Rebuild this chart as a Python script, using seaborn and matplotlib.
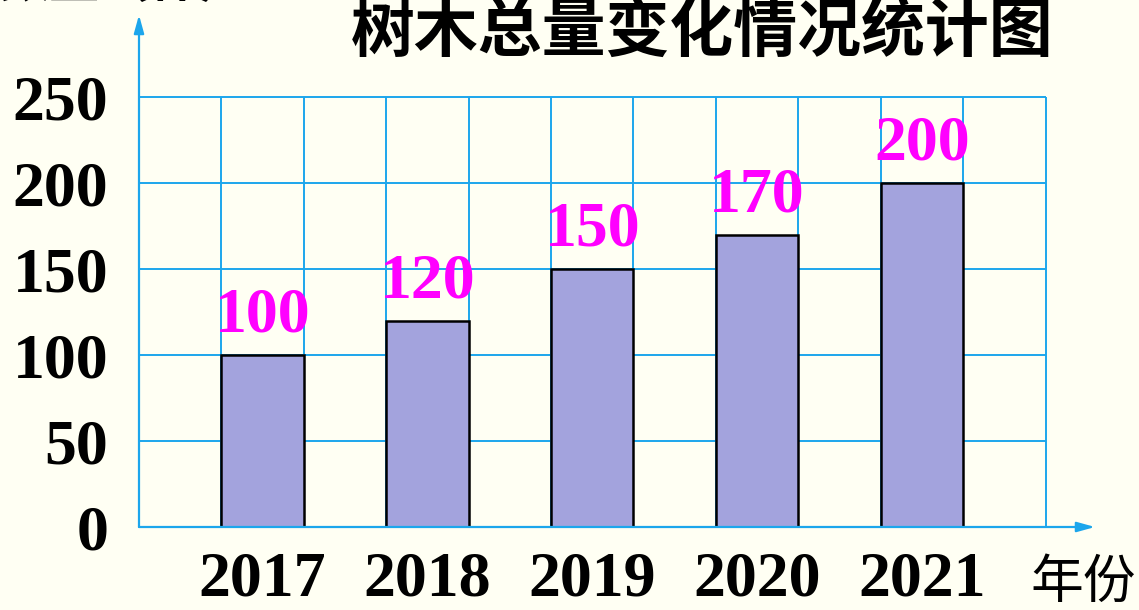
import matplotlib
matplotlib.use("Agg")
import matplotlib.pyplot as plt
import seaborn as sns
import numpy as np

# data
years = ["2017", "2018", "2019", "2020", "2021"]
trees = [100, 120, 150, 170, 200]
y_ticks = [0, 50, 100, 150, 200, 250]

bg = "#FFFFF3"
blue = "#1CA6EC"
bar_color = "#A3A3DD"
label_color = "#FF00FF"

sns.set_theme(style="white")
plt.rcParams["font.family"] = ["Liberation Serif", "Noto Sans CJK SC"]
plt.rcParams["text.color"] = "black"
plt.rcParams["xtick.color"] = "black"
plt.rcParams["ytick.color"] = "black"

fig = plt.figure(figsize=(11.39, 6.10), dpi=100, facecolor=bg)
ax = fig.add_axes([139 / 1139, 1 - 527 / 610, (1095 - 139) / 1139, (527 - 15) / 610])
ax.set_facecolor(bg)

# grid: one cell = half a category step, bars fill every other cell
x0, x1 = -0.75, len(years) - 0.25
ax.hlines(y_ticks[1:], x0, x1, color=blue, lw=1.4, zorder=0)
ax.vlines(np.arange(x0 + 0.5, x1 + 0.01, 0.5), 0, y_ticks[-1], color=blue, lw=1.4, zorder=0)

sns.barplot(x=years, y=trees, color=bar_color, width=0.5, saturation=1,
            edgecolor="black", linewidth=1.8, ax=ax, zorder=2)

for i, v in enumerate(trees):
    ax.annotate(str(v), (i, v), xytext=(0, 7), textcoords="offset points",
                ha="center", va="bottom", color=label_color,
                fontsize=46, fontweight="bold", family="Liberation Serif")

ax.set_xlim(x0, 5.05)
ax.set_ylim(0, 298)
ax.set_yticks(y_ticks)
ax.tick_params(length=0, labelsize=46, labelcolor="black")
ax.tick_params(axis="x", pad=18)
ax.tick_params(axis="y", pad=22)
for lab in ax.get_xticklabels() + ax.get_yticklabels():
    lab.set_fontweight("bold")
    lab.set_family("Liberation Serif")

for s in ["top", "right", "left", "bottom"]:
    ax.spines[s].set_visible(False)

# axes with arrow heads
ax.annotate("", xy=(1, 0), xytext=(0, 0), xycoords="axes fraction",
            arrowprops=dict(arrowstyle="-|>,head_length=0.9,head_width=0.25",
                            color=blue, lw=1.6, shrinkA=0, shrinkB=0))
ax.annotate("", xy=(0, 1), xytext=(0, 0), xycoords="axes fraction",
            arrowprops=dict(arrowstyle="-|>,head_length=0.9,head_width=0.25",
                            color=blue, lw=1.6, shrinkA=0, shrinkB=0))

fig.text(702 / 1139, 1 - 33 / 610, "树木总量变化情况统计图", ha="center", va="center",
         fontsize=46, fontweight="bold", color="black",
         family=["Noto Sans CJK SC", "DejaVu Sans"])
fig.text(1083 / 1139, 1 - 582 / 610, "年份", ha="center", va="center",
         fontsize=38, color="black", family=["Noto Sans CJK SC", "DejaVu Sans"])
# unit label, cut off at the top edge in the original
fig.text(0.0, 1 - 8 / 610, "数量（棵）", ha="left", va="bottom", color="black",
         fontsize=36, fontweight="bold", family=["Noto Sans CJK SC", "DejaVu Sans"])

fig.savefig("out.png", dpi=100, facecolor=bg)
